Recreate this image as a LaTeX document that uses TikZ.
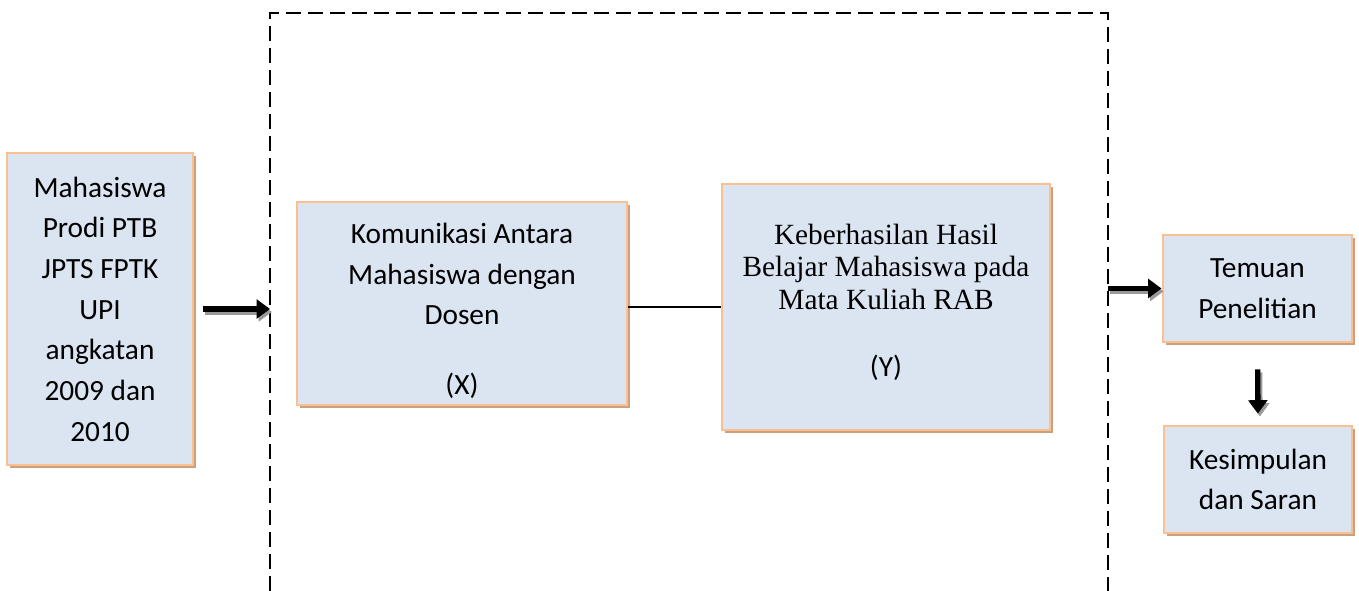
\documentclass[tikz,border=0pt]{standalone}
\usepackage{fontspec}
\setmainfont{Carlito}
\newfontfamily\timesf{Liberation Serif}
\usetikzlibrary{arrows.meta,shadows}
\definecolor{boxfill}{RGB}{219,229,241}
\definecolor{boxline}{RGB}{250,192,143}
\definecolor{boxshade}{RGB}{202,160,128}
\newcommand\calibfont{\fontsize{22}{30.5}\selectfont}
\newcommand\timesblock{\timesf\fontsize{22}{24.5}\selectfont}
\begin{document}
\begin{tikzpicture}[x=0.75pt,y=-0.75pt,
  box/.style={draw=boxline, line width=2.2pt, fill=boxfill, inner sep=0pt, align=center,
    font=\calibfont,
    drop shadow={shadow xshift=2.6pt, shadow yshift=-2.6pt, fill=boxshade, opacity=1}},
  txt/.style={inner sep=0pt, align=center},
  frame/.style={draw=black, line width=1.5pt, dash pattern=on 11.25pt off 5.25pt},
  link/.style={draw=black, line width=1pt},
  fat/.style={line width=4pt, -{Triangle[length=10pt,width=14pt]}},
  fatshade/.style={fat, draw=black!40, fill=black!40, transform canvas={xshift=1.5pt,yshift=-2.2pt}}
]
\useasboundingbox (0,0) rectangle (1359,591);

% dashed frame (open at the bottom)
\coordinate (fl) at (270,13);
\coordinate (fr) at (1108,13);
\draw[frame] (270,591) -- (fl) -- (fr) -- (1108,591);

% boxes
\node[box, minimum width=139.5pt, minimum height=234pt] (b1) at (100,309)
  {Mahasiswa\\Prodi PTB\\JPTS FPTK\\UPI\\angkatan\\2009 dan\\2010};
\node[box, minimum width=247.5pt, minimum height=152.25pt] (bx) at (462,303.5) {};
\node[txt, font=\calibfont] (xt) at (462,311)
  {Komunikasi Antara\\Mahasiswa dengan\\Dosen\\[21.75pt](X)};
\node[box, minimum width=246pt, minimum height=184.5pt] (by) at (886,307) {};
\node[txt, font=\timesblock] (yt) at (886,302)
  {Keberhasilan Hasil\\Belajar Mahasiswa pada\\Mata Kuliah RAB\\[25.5pt]{\rmfamily (Y)}};
\node[box, minimum width=141.75pt, minimum height=80.25pt] (tm) at (1257.5,288.5)
  {Temuan\\Penelitian};
\node[box, minimum width=141pt, minimum height=80.25pt] (km) at (1258,479.5)
  {Kesimpulan\\dan Saran};

% connectors
\draw[link] (bx.east |- by.west) -- (by.west);

\draw[fatshade, shorten <=6.75pt] (b1.east) -- (b1.east -| fl);
\draw[fat, shorten <=6.75pt] (b1.east) -- (b1.east -| fl);

\draw[fatshade] (tm.west -| fr) -- (tm.west);
\draw[fat] (tm.west -| fr) -- (tm.west);

\draw[fatshade, shorten <=19.5pt, shorten >=8.25pt] (tm.south) -- (km.north);
\draw[fat, shorten <=19.5pt, shorten >=8.25pt] (tm.south) -- (km.north);
\end{tikzpicture}
\end{document}
